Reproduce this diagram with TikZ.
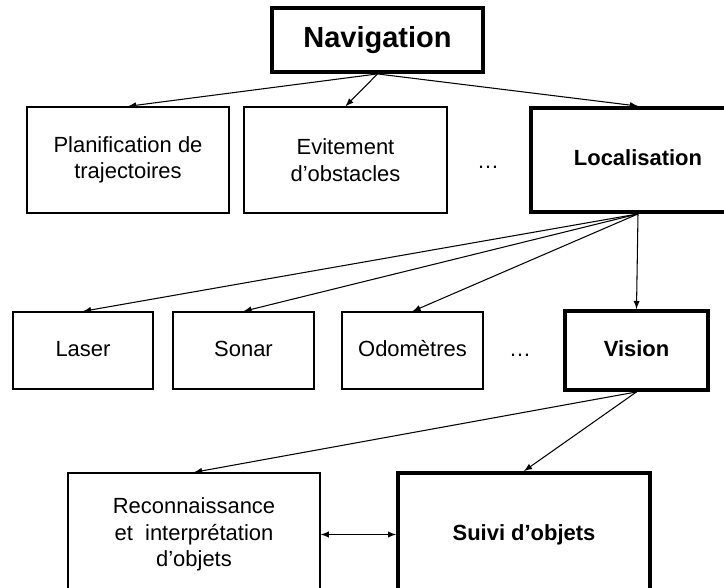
\documentclass[tikz,border=0pt]{standalone}
\usepackage{fontspec}
\setmainfont{Liberation Sans}
\usepackage{tikz}

\begin{document}
\begin{tikzpicture}[x=0.02cm, y=-0.02cm, >=latex,
  boite/.style={draw, line width=0.8pt, align=center, inner sep=0pt,
    font=\fontsize{12.5}{15}\selectfont},
  forte/.style={boite, line width=2.2pt, font=\fontsize{12.5}{15}\selectfont\bfseries},
  ligne/.style={text height=9pt, text depth=2.5pt},
  fleche/.style={->, line width=0.6pt}]
  \useasboundingbox (0,0) rectangle (724,588);
  \clip (0,0) rectangle (724,588);
  % niveau 0
  \node[forte, minimum width=4.22cm, minimum height=1.28cm,
    font=\fontsize{16.5}{18}\selectfont\bfseries] (nav) at (377.5,40) {Navigation};
  % niveau 1
  \node[boite, minimum width=4.04cm, minimum height=2.12cm] (plan) at (128,160) {Planification de\\trajectoires};
  \node[boite, minimum width=4.06cm, minimum height=2.12cm] (evit) at (345.5,160) {Evitement\\d'obstacles};
  \node[ligne, font=\fontsize{12.5}{15}\selectfont] (pts1) at (488,163) {\ldots};
  \node[forte, ligne, minimum width=4.28cm, minimum height=2.08cm] (loc) at (638,160) {Localisation};
  % capteurs
  \node[boite, ligne, minimum width=2.8cm, minimum height=1.54cm] (laser) at (83,350.5) {Laser};
  \node[boite, ligne, minimum width=2.82cm, minimum height=1.54cm] (sonar) at (243.5,350.5) {Sonar};
  \node[boite, ligne, minimum width=2.82cm, minimum height=1.54cm] (odo) at (412.5,350.5) {Odomètres};
  \node[ligne, font=\fontsize{12.5}{15}\selectfont] (pts2) at (520,350.5) {\ldots};
  \node[forte, ligne, minimum width=2.86cm, minimum height=1.58cm] (vision) at (636.5,350.5) {Vision};
  % vision
  \node[boite, minimum width=5.04cm, minimum height=2.46cm] (reco) at (194,534.5) {Reconnaissance\\et~~interprétation\\d'objets};
  \node[forte, ligne, minimum width=5.04cm, minimum height=2.46cm] (suivi) at (524,534.5) {Suivi d’objets};
  % fleches
  \foreach \n in {plan,evit,loc} \draw[fleche] (nav.south) -- (\n.north);
  \foreach \n in {laser,sonar,odo,vision} \draw[fleche] (loc.south) -- (\n.north);
  \foreach \n in {reco,suivi} \draw[fleche] (vision.south) -- (\n.north);
  \draw[<->, line width=0.6pt] (reco.east) -- (suivi.west);
\end{tikzpicture}
\end{document}
